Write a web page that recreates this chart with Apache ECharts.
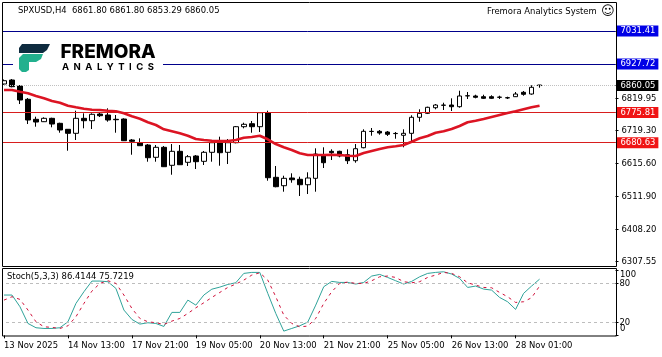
<!DOCTYPE html>
<html><head><meta charset="utf-8">
<style>html,body{margin:0;padding:0;background:#fff}#c{width:662px;height:357px}</style>
<script src="https://cdn.jsdelivr.net/npm/echarts@6/dist/echarts.min.js"></script>
</head><body><div id="c"></div>
<script>
const opens=[6865.0,6877.5,6858.7,6816.9,6754.1,6746.6,6757.2,6741.5,6722.7,6710.1,6757.2,6749.7,6770.7,6767.6,6754.1,6755.0,6689.1,6680.6,6673.4,6634.8,6666.2,6609.7,6653.6,6619.1,6638.9,6622.2,6650.5,6680.6,6650.5,6680.6,6730.9,6740.3,6730.9,6774.8,6572.0,6545.6,6569.8,6565.7,6548.7,6568.8,6642.9,6653.6,6653.6,6642.9,6624.1,6664.9,6715.8,6716.4,6714.2,6709.8,6703.9,6710.1,6760.4,6772.9,6790.5,6798.0,6799.0,6793.7,6827.5,6827.3,6825.1,6825.1,6823.8,6821.9,6825.1,6838.9,6833.5,6861.80];
const closes=[6875.3,6856.5,6814.7,6751.9,6745.6,6757.2,6739.3,6720.5,6710.1,6757.2,6749.7,6769.8,6765.4,6751.9,6752.8,6686.9,6685.0,6671.2,6633.5,6666.2,6605.3,6653.6,6611.5,6636.7,6621.0,6650.5,6680.6,6649.2,6680.6,6730.9,6738.4,6730.9,6774.8,6570.7,6542.5,6568.8,6564.4,6548.7,6569.8,6645.1,6617.8,6649.2,6638.9,6624.1,6661.8,6716.4,6716.4,6711.1,6707.0,6709.2,6710.1,6760.4,6772.9,6791.8,6799.0,6798.8,6793.7,6827.3,6828.2,6823.2,6820.0,6820.0,6823.2,6821.3,6833.5,6832.6,6854.6,6860.05];
const lows=[6862.7,6854.6,6802.1,6739.3,6730.9,6745.6,6729.0,6712.0,6655.5,6689.1,6725.8,6723.6,6761.3,6746.6,6712.0,6686.0,6642.9,6670.3,6621.0,6621.0,6604.3,6580.1,6610.6,6607.5,6598.0,6610.6,6621.0,6608.4,6613.7,6678.7,6725.8,6712.0,6714.2,6561.3,6540.6,6526.8,6555.0,6513.3,6519.5,6526.8,6601.2,6626.3,6634.8,6613.7,6617.8,6663.0,6702.6,6705.7,6701.7,6693.2,6666.2,6683.8,6746.6,6770.7,6785.5,6783.3,6780.2,6790.5,6817.8,6820.0,6817.8,6817.8,6817.8,6817.8,6824.1,6828.2,6831.3,6853.29];
const highs=[6879.1,6880.6,6861.8,6821.0,6762.3,6760.4,6759.1,6743.4,6723.6,6781.1,6772.9,6772.9,6776.1,6788.6,6767.6,6757.2,6692.2,6694.4,6676.5,6673.4,6670.3,6676.5,6673.4,6642.0,6642.0,6654.6,6686.9,6699.5,6692.2,6733.1,6743.4,6748.8,6777.0,6781.1,6607.5,6577.0,6584.5,6573.9,6587.7,6663.0,6666.2,6659.9,6655.5,6659.9,6676.5,6722.7,6726.8,6720.5,6717.4,6714.2,6722.7,6766.7,6785.5,6793.7,6802.1,6806.2,6820.0,6843.9,6839.8,6831.3,6831.3,6829.5,6828.2,6825.1,6839.8,6843.0,6860.9,6861.80];
const maValues=[6846.1,6846.1,6840.8,6835.7,6827.3,6820.0,6811.6,6806.2,6796.8,6791.8,6787.4,6784.2,6783.3,6781.1,6779.2,6772.9,6763.5,6756.0,6744.7,6736.2,6722.7,6716.4,6710.1,6702.6,6692.2,6689.1,6686.9,6686.0,6686.0,6689.1,6696.3,6698.5,6702.6,6691.3,6676.5,6666.2,6657.7,6647.3,6642.0,6642.0,6642.0,6642.9,6642.0,6639.8,6638.9,6648.3,6654.6,6660.8,6666.2,6669.3,6673.4,6683.8,6694.4,6701.7,6712.0,6716.4,6723.6,6733.1,6744.7,6749.7,6755.0,6761.3,6767.6,6773.9,6779.2,6785.5,6791.8,6796.8];
const stochMain=[62.0,62.0,44.0,18.3,11.7,10.6,10.6,11.7,20.9,49.1,67.1,83.5,83.5,82.5,72.2,38.9,24.5,17.3,19.4,18.3,13.7,35.3,35.3,54.2,46.5,62.0,71.0,74.2,78.3,80.9,95.3,96.8,96.8,64.5,33.7,6.5,10.6,14.7,20.4,46.5,74.8,83.0,81.4,81.4,78.9,81.4,91.2,93.7,89.1,84.0,78.9,83.0,90.1,95.3,96.8,97.8,94.3,87.6,73.7,75.8,71.2,69.6,58.3,51.7,39.9,64.5,75.8,86.41];
const stochSignal=[54.2,59.4,55.3,38.9,20.9,13.2,12.2,10.6,14.7,28.6,49.1,68.1,79.9,84.0,79.9,62.0,41.4,26.0,20.9,19.4,16.8,21.9,26.0,33.7,42.4,50.1,58.3,66.0,73.7,78.9,85.0,92.7,96.3,85.0,59.4,31.2,18.3,13.2,14.2,26.0,49.1,67.1,79.9,81.9,79.9,79.9,84.0,90.1,91.2,89.1,82.5,80.9,82.5,89.1,92.7,96.8,95.3,90.1,80.9,77.3,73.7,73.2,66.0,59.4,50.6,51.7,57.8,75.72];
const tickLabels=['13 Nov 2025','14 Nov 13:00','17 Nov 21:00','19 Nov 05:00','20 Nov 13:00','21 Nov 21:00','25 Nov 05:00','26 Nov 13:00','28 Nov 01:00'];
const priceTicks=[6819.95,6719.30,6615.60,6511.90,6408.20,6307.55];
const blueLevels=[7031.41,6927.72];
const redLevels=[6775.81,6680.63];
const lastPrice=6860.05;
const stochLevels=[20,80];
const stochTicks=[0,20,80,100];

const FONT='"DejaVu Sans Condensed","DejaVu Sans"';
const FS=9.4;
const BARS_SHOWN=77, TICK_EVERY=8;
const categories=[];
for(let i=0;i<BARS_SHOWN;i++){categories.push(i%TICK_EVERY===0&&tickLabels[i/TICK_EVERY]?tickLabels[i/TICK_EVERY]:'');}
const candles=opens.map((o,i)=>[o,closes[i],lows[i],highs[i]]);
const tickShown=i=>i%TICK_EVERY===0&&!!tickLabels[i/TICK_EVERY];

function level(v,lineColor,boxColor,lineType){
  return {yAxis:v,lineStyle:{color:lineColor,width:1,type:lineType||'solid'},
    label:{show:true,position:'end',distance:1,formatter:v.toFixed(2),color:'#fff',backgroundColor:boxColor,
      padding:[1,3,1,4],fontFamily:FONT,fontSize:FS,lineHeight:9}};
}
const frame=(x,y,w,h)=>({type:'rect',shape:{x,y,width:w,height:h},style:{fill:'none',stroke:'#000',lineWidth:1},z:101,silent:true});
const txt=(x,y,t,size,extra)=>({type:'text',x,y,z:103,silent:true,style:Object.assign({text:t,fontFamily:FONT,fontSize:size,fill:'#000',textVerticalAlign:'middle',verticalAlign:'middle'},extra||{})});

const option={
  animation:false,backgroundColor:'#fff',
  grid:[
    {left:-0.5,top:3,width:616,height:263,containLabel:false},
    {left:-0.5,top:268,width:616,height:68,containLabel:false}
  ],
  xAxis:[
    {type:'category',gridIndex:0,data:categories,boundaryGap:true,axisLine:{show:false},axisTick:{show:false},axisLabel:{show:false},splitLine:{show:false}},
    {type:'category',gridIndex:1,data:categories,boundaryGap:true,axisLine:{show:false},
      axisTick:{show:true,alignWithLabel:true,interval:tickShown,length:3,lineStyle:{color:'#000'}},
      axisLabel:{show:true,interval:tickShown,align:'left',margin:5,color:'#000',fontFamily:FONT,fontSize:FS,hideOverlap:false,showMinLabel:true},
      splitLine:{show:false}}
  ],
  yAxis:[
    {type:'value',gridIndex:0,position:'right',min:6293.5,max:7119.3,scale:true,axisLine:{show:false},splitLine:{show:false},
      axisTick:{show:true,length:3,lineStyle:{color:'#000'},customValues:priceTicks.concat(blueLevels,redLevels,[lastPrice])},
      axisLabel:{show:true,margin:6,color:'#000',fontFamily:FONT,fontSize:FS,padding:[2,0,0,0],customValues:priceTicks,formatter:v=>v.toFixed(2)}},
    {type:'value',gridIndex:1,position:'right',min:-1,max:103.6,axisLine:{show:false},splitLine:{show:false},
      axisTick:{show:true,length:3,lineStyle:{color:'#000'},customValues:stochTicks},
      axisLabel:{show:true,margin:4,color:'#000',fontFamily:FONT,fontSize:FS,customValues:stochLevels,formatter:v=>String(v)}}
  ],
  series:[
    {type:'candlestick',xAxisIndex:0,yAxisIndex:0,data:candles,barWidth:5,clip:false,
      itemStyle:{color:'#fff',color0:'#000',borderColor:'#000',borderColor0:'#000',borderWidth:1},
      markLine:{silent:true,symbol:'none',animation:false,precision:2,data:[
        level(blueLevels[0],'#00008b','#0000e6'),level(blueLevels[1],'#00008b','#0000e6'),
        level(lastPrice,'#c0c0c0','#000','dotted'),
        level(redLevels[0],'#d81e1e','#f01414'),level(redLevels[1],'#d81e1e','#f01414')]}},
    {type:'line',xAxisIndex:0,yAxisIndex:0,data:maValues,showSymbol:false,lineStyle:{color:'#dc1423',width:2.6},z:5},
    {type:'line',xAxisIndex:1,yAxisIndex:1,data:stochMain,showSymbol:false,lineStyle:{color:'#2fa39a',width:1},z:4,
      markLine:{silent:true,symbol:'none',animation:false,label:{show:false},
        lineStyle:{color:'#bdbdbd',width:1,type:[3,3]},data:stochLevels.map(v=>({yAxis:v}))}},
    {type:'line',xAxisIndex:1,yAxisIndex:1,data:stochSignal,showSymbol:false,lineStyle:{color:'#d0103a',width:1,type:[3,4]},z:5}
  ],
  graphic:[
    {type:'rect',shape:{x:0,y:0,width:2,height:357},style:{fill:'#fff'},z:100,silent:true},
    frame(2.5,2.5,614,264),
    frame(2.5,268.5,614,67.5),
    {type:'rect',shape:{x:13,y:41,width:150,height:35},style:{fill:'#fff'},z:102,silent:true},
    {type:'polygon',shape:{points:[[22,44],[50,44],[47,50],[43,53],[19,53],[19,48]]},style:{fill:'#0e2b3f'},z:103,silent:true},
    {type:'polygon',shape:{points:[[23,54],[43,54],[41,59],[36,62],[29,62],[29,70],[26,72],[22,72],[19,69],[19,58]]},style:{fill:'#22b08e'},z:103,silent:true},
    txt(60.5,52.5,'FREMORA',19,{fontFamily:'Inter',fontWeight:800}),
    txt(62,67.5,'A  N  A  L  Y  T  I  C  S',9.5,{fontFamily:'Inter',fontWeight:700}),
    txt(18,11,'SPXUSD,H4  6861.80 6861.80 6853.29 6860.05',FS),
    txt(487,12,'Fremora Analytics System',FS),
    txt(601,12,'\u263A',13,{fontFamily:'DejaVu Sans'}),
    txt(7,277,'Stoch(5,3,3) 86.4144 75.7219',FS),
    txt(620,275,'100',FS),
    txt(620,329,'0',FS)
  ]
};
echarts.init(document.getElementById('c'),null,{renderer:'canvas'}).setOption(option);
</script></body></html>
